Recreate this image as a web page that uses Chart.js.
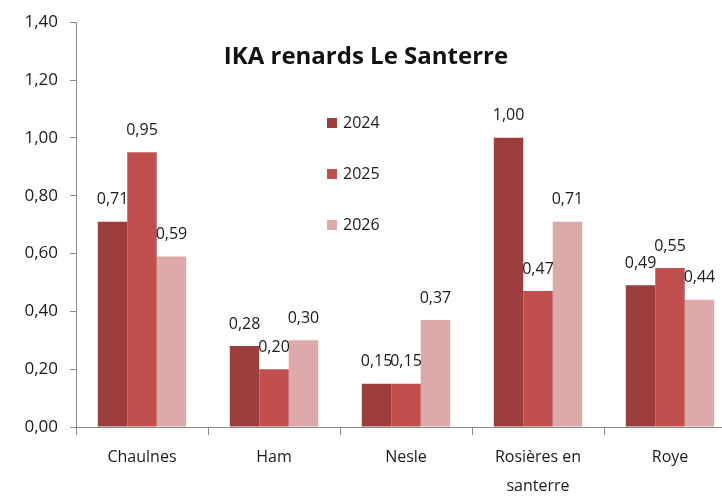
<!DOCTYPE html>
<html>
<head>
<meta charset="utf-8">
<script src="https://cdn.jsdelivr.net/npm/chart.js@4.4.1/dist/chart.umd.min.js"></script>
<style>
  html, body { margin: 0; padding: 0; background: #fff; overflow: hidden; }
  #wrap { width: 722px; height: 498px; overflow: hidden; }
</style>
</head>
<body>
<div id="wrap"><canvas id="chart" width="736" height="498"></canvas></div>
<script>
// ================== DATA ==================
const chartTitle = "IKA renards Le Santerre";
const categories = ["Chaulnes", "Ham", "Nesle", ["Rosières en", "santerre"], "Roye"];
const years = ["2024", "2025", "2026"];
const values2024 = [0.71, 0.28, 0.15, 1.0, 0.49];
const values2025 = [0.95, 0.2, 0.15, 0.47, 0.55];
const values2026 = [0.59, 0.3, 0.37, 0.71, 0.44];
const yMin = 0;
const yMax = 1.4;
const yStep = 0.2;

const colors = ["#9b3e3d", "#c0504d", "#dca8a8"];
const FONT = "'Open Sans', sans-serif";

const fmt = (v) => v.toFixed(2).replace(".", ",");

// value labels above bars
const barLabels = {
  id: "barLabels",
  afterDatasetsDraw(chart) {
    const ctx = chart.ctx;
    ctx.save();
    ctx.font = "16px " + FONT;
    ctx.fillStyle = "#1a1a1a";
    ctx.textAlign = "center";
    ctx.textBaseline = "middle";
    chart.data.datasets.forEach((ds, i) => {
      chart.getDatasetMeta(i).data.forEach((bar, j) => {
        ctx.fillText(fmt(ds.data[j]), bar.x, bar.y - 22);
      });
    });
    ctx.restore();
  },
};

// title + legend sit inside the plot area
const overlay = {
  id: "overlay",
  afterDraw(chart) {
    const ctx = chart.ctx;
    ctx.save();
    ctx.fillStyle = "#111";
    ctx.font = "bold 24px " + FONT;
    ctx.textAlign = "center";
    ctx.textBaseline = "middle";
    ctx.fillText(chartTitle, 366, 57);

    ctx.font = "16px " + FONT;
    ctx.textAlign = "left";
    chart.data.datasets.forEach((ds, i) => {
      const y = 123 + i * 51;
      ctx.fillStyle = ds.backgroundColor;
      ctx.fillRect(327, y - 5, 10, 10);
      ctx.fillStyle = "#1a1a1a";
      ctx.fillText(ds.label, 343, y);
    });
    ctx.restore();
  },
};

const seriesValues = [values2024, values2025, values2026];

new Chart(document.getElementById("chart"), {
  type: "bar",
  data: {
    labels: categories,
    datasets: years.map((y, i) => ({
      label: y,
      data: seriesValues[i],
      backgroundColor: colors[i],
      categoryPercentage: 0.67,
      barPercentage: 1,
    })),
  },
  options: {
    responsive: false,
    animation: false,
    layout: { padding: { top: 22, right: 0, bottom: 0, left: 0 } },
    plugins: {
      legend: { display: false },
      title: { display: false },
      tooltip: { enabled: false },
    },
    scales: {
      x: {
        grid: { drawOnChartArea: false, offset: true, tickLength: 8, color: "#8a8a8a" },
        border: { color: "#8a8a8a" },
        ticks: {
          color: "#1a1a1a",
          font: { family: FONT, size: 16, lineHeight: 1.8 },
          padding: 8,
          maxRotation: 0,
        },
        afterFit: (scale) => { scale.height = 71; },
      },
      y: {
        min: yMin,
        max: yMax,
        grid: { drawOnChartArea: false, tickLength: 6, color: "#8a8a8a" },
        border: { color: "#8a8a8a" },
        ticks: {
          stepSize: yStep,
          color: "#1a1a1a",
          font: { family: FONT, size: 17 },
          padding: 12,
          callback: (v) => fmt(v),
        },
        afterFit: (scale) => { scale.width = 76; },
      },
    },
  },
  plugins: [barLabels, overlay],
});
</script>
</body>
</html>
